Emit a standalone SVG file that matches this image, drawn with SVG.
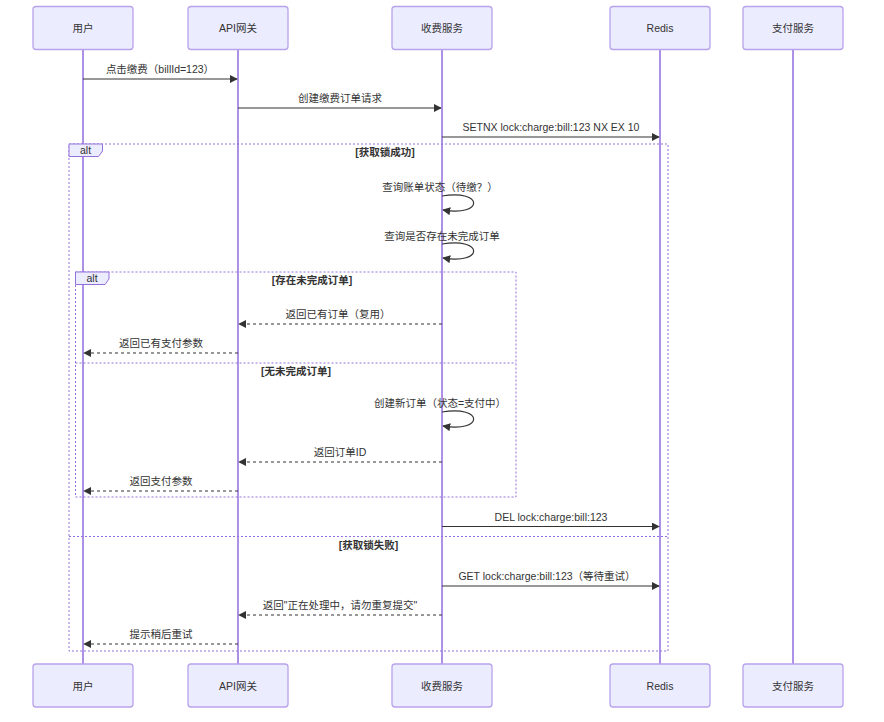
<svg xmlns="http://www.w3.org/2000/svg" width="884" height="722" viewBox="0 0 884 722">
<defs>
<marker id="ah" viewBox="0 0 10 10" refX="9" refY="5" markerWidth="8" markerHeight="8" markerUnits="userSpaceOnUse" orient="auto">
<path d="M0,0 L10,5 L0,10 z" fill="#333"/>
</marker>
</defs>
<style>
text{font-family:"Liberation Sans","Noto Sans CJK SC",sans-serif;font-size:10.5px;fill:#333;}
.actor{fill:#ECECFF;stroke:#b8a2ec;stroke-width:1.3;}
.atext{text-anchor:middle;}
.life{stroke:#ad91e6;stroke-width:2;}
.msg{stroke:#333;stroke-width:1.2;fill:none;marker-end:url(#ah);}
.dash{stroke-dasharray:3,3;}
.mtext{text-anchor:middle;}
.loop{fill:none;stroke:#9370DB;stroke-width:1;stroke-dasharray:2,2;}
.lbox{fill:#ECECFF;stroke:#9370DB;stroke-width:1;}
.ltext{text-anchor:middle;font-weight:bold;}
</style>
<rect width="884" height="722" fill="#fff"/>
<g id="lifelines">
<line class="life" x1="83" y1="49" x2="83" y2="664"/>
<line class="life" x1="238" y1="49" x2="238" y2="664"/>
<line class="life" x1="442" y1="49" x2="442" y2="664"/>
<line class="life" x1="660" y1="49" x2="660" y2="664"/>
<line class="life" x1="793" y1="49" x2="793" y2="664"/>
</g>
<g id="actor-user"><rect class="actor" x="33" y="6.5" width="100" height="43" rx="3"/><text class="atext" x="83" y="32">用户</text></g>
<g id="actor-gw"><rect class="actor" x="188" y="6.5" width="100" height="43" rx="3"/><text class="atext" x="238" y="32">API网关</text></g>
<g id="actor-charge"><rect class="actor" x="392" y="6.5" width="100" height="43" rx="3"/><text class="atext" x="442" y="32">收费服务</text></g>
<g id="actor-redis"><rect class="actor" x="610" y="6.5" width="100" height="43" rx="3"/><text class="atext" x="660" y="32">Redis</text></g>
<g id="actor-pay"><rect class="actor" x="743" y="6.5" width="100" height="43" rx="3"/><text class="atext" x="793" y="32">支付服务</text></g>
<g id="actor-user-b"><rect class="actor" x="33" y="664" width="100" height="43" rx="3"/><text class="atext" x="83" y="690">用户</text></g>
<g id="actor-gw-b"><rect class="actor" x="188" y="664" width="100" height="43" rx="3"/><text class="atext" x="238" y="690">API网关</text></g>
<g id="actor-charge-b"><rect class="actor" x="392" y="664" width="100" height="43" rx="3"/><text class="atext" x="442" y="690">收费服务</text></g>
<g id="actor-redis-b"><rect class="actor" x="610" y="664" width="100" height="43" rx="3"/><text class="atext" x="660" y="690">Redis</text></g>
<g id="actor-pay-b"><rect class="actor" x="743" y="664" width="100" height="43" rx="3"/><text class="atext" x="793" y="690">支付服务</text></g>
<g id="alt-outer">
<rect class="loop" x="69" y="144" width="599" height="507"/>
<line class="loop" x1="69" y1="536.5" x2="668" y2="536.5"/>
<polygon class="lbox" points="69,144 102.5,144 102.5,151 98.5,156.5 69,156.5"/>
<text class="atext" x="85.5" y="154">alt</text>
<text class="ltext" x="385" y="156">[获取锁成功]</text>
<text class="ltext" x="368.5" y="549">[获取锁失败]</text>
</g>
<g id="alt-inner">
<rect class="loop" x="75.5" y="272" width="440.5" height="225"/>
<line class="loop" x1="75.5" y1="363" x2="516" y2="363"/>
<polygon class="lbox" points="75.5,272 109,272 109,279 105,284.5 75.5,284.5"/>
<text class="atext" x="92" y="282">alt</text>
<text class="ltext" x="312" y="284">[存在未完成订单]</text>
<text class="ltext" x="296" y="375">[无未完成订单]</text>
</g>
<g id="connectors">
<line class="msg" x1="83" y1="79" x2="237" y2="79"/>
<text class="mtext" x="160" y="73">点击缴费（billId=123）</text>
<line class="msg" x1="238" y1="108" x2="441" y2="108"/>
<text class="mtext" x="340" y="102">创建缴费订单请求</text>
<line class="msg" x1="442" y1="137" x2="659" y2="137"/>
<text class="mtext" x="551" y="131">SETNX lock:charge:bill:123 NX EX 10</text>
<path class="msg" d="M442,196 C484,189 484,217 443,210"/>
<text class="mtext" x="440" y="191">查询账单状态（待缴？）</text>
<path class="msg" d="M442,244 C484,237 484,265 443,258"/>
<text class="mtext" x="442" y="240">查询是否存在未完成订单</text>
<line class="msg dash" x1="442" y1="324" x2="239" y2="324"/>
<text class="mtext" x="338" y="318">返回已有订单（复用）</text>
<line class="msg dash" x1="238" y1="353" x2="84" y2="353"/>
<text class="mtext" x="161" y="347">返回已有支付参数</text>
<path class="msg" d="M442,412 C484,405 484,433 443,426"/>
<text class="mtext" x="440" y="407">创建新订单（状态=支付中）</text>
<line class="msg dash" x1="442" y1="462" x2="239" y2="462"/>
<text class="mtext" x="340" y="456">返回订单ID</text>
<line class="msg dash" x1="238" y1="491" x2="84" y2="491"/>
<text class="mtext" x="161" y="485">返回支付参数</text>
<line class="msg" x1="442" y1="526.5" x2="659" y2="526.5"/>
<text class="mtext" x="551" y="521">DEL lock:charge:bill:123</text>
<line class="msg" x1="442" y1="586" x2="659" y2="586"/>
<text class="mtext" x="547" y="580">GET lock:charge:bill:123（等待重试）</text>
<line class="msg dash" x1="442" y1="615" x2="239" y2="615"/>
<text class="mtext" x="340" y="609">返回"正在处理中，请勿重复提交"</text>
<line class="msg dash" x1="238" y1="644" x2="84" y2="644"/>
<text class="mtext" x="161" y="638">提示稍后重试</text>
</g>
</svg>
